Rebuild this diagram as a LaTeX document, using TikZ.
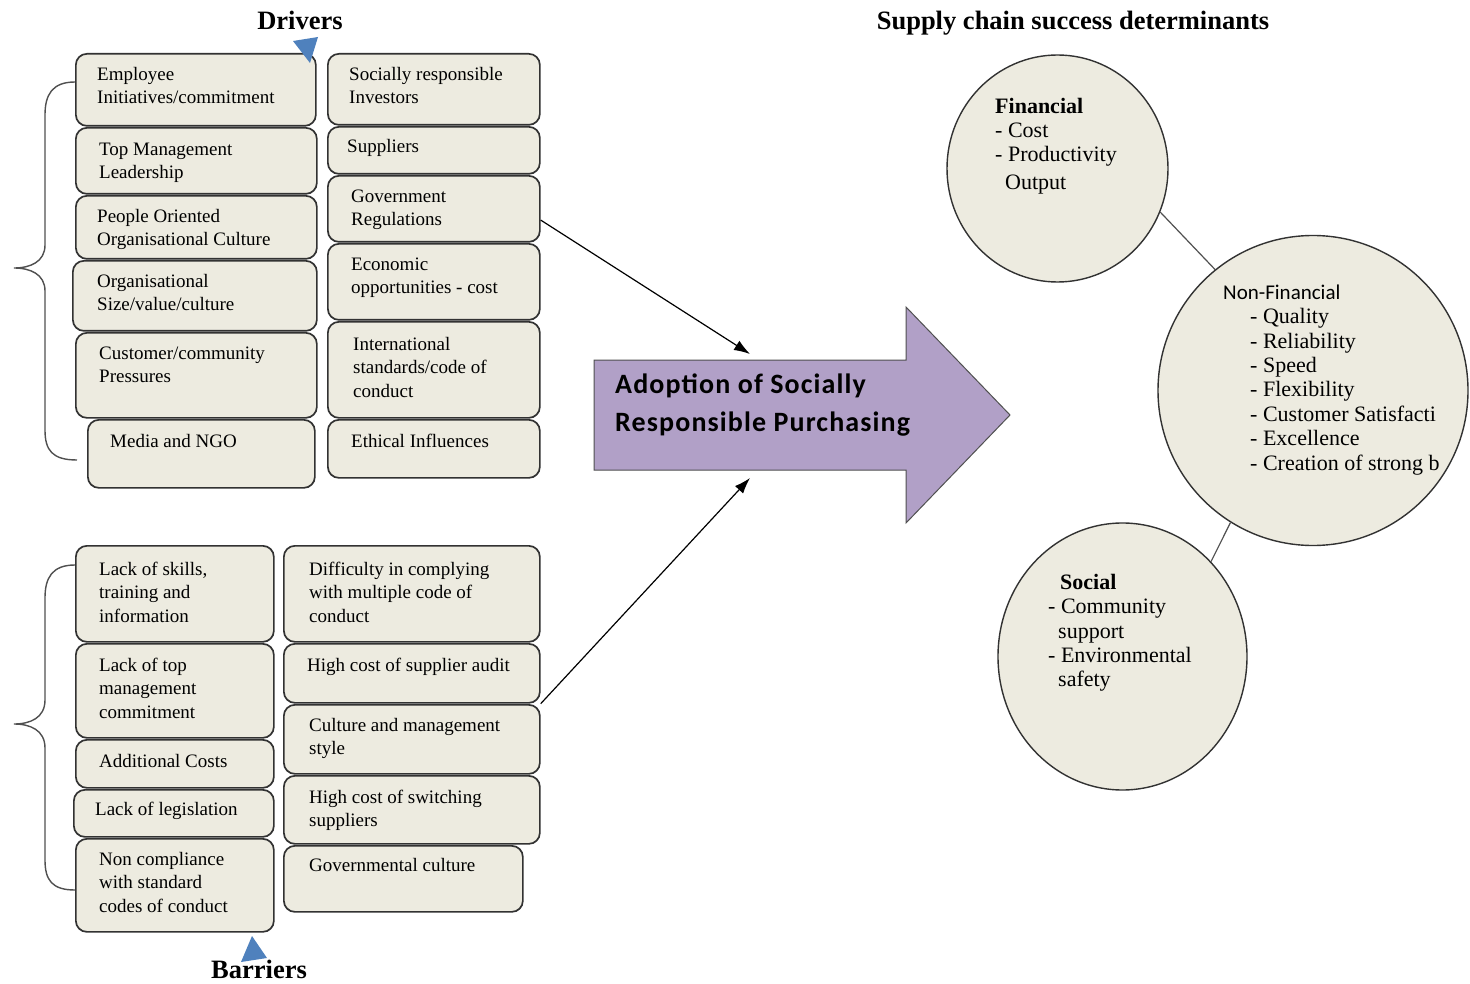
\documentclass[tikz,border=0pt]{standalone}
\usepackage{fontspec}
\setmainfont{Liberation Serif}
\newfontfamily\calibri{Carlito}
\newfontfamily\calibriwide[LetterSpace=4]{Carlito}
\usetikzlibrary{arrows.meta,shapes.geometric}
\definecolor{boxfill}{RGB}{237,235,224}
\definecolor{boxline}{RGB}{50,50,50}
\definecolor{arrfill}{RGB}{177,160,199}
\definecolor{arrline}{RGB}{80,80,80}
\definecolor{tri}{RGB}{79,129,189}
\tikzset{
  box/.style={draw=boxline, line width=1.7pt, fill=boxfill, rounded corners=11pt, anchor=north west, inner sep=0pt},
  boxlbl/.style={anchor=north west, inner sep=0pt, align=left, font=\fontsize{19}{23.5}\selectfont},
  circ/.style={ellipse, draw=boxline, line width=1.4pt, fill=boxfill, inner sep=0pt},
  ctext/.style={anchor=north west, inner sep=0pt, align=left, font=\fontsize{22}{24.4}\selectfont},
  hdr/.style={anchor=base, inner sep=0pt, font=\fontsize{26.5}{30}\selectfont\bfseries},
  arrtext/.style={anchor=north west, inner sep=0pt, align=left, font=\calibriwide\bfseries\fontsize{28}{38}\selectfont},
  conn/.style={line width=1.2pt, -{Latex[length=16pt,width=11pt]}},
  cline/.style={line width=1.2pt, draw=arrline},
  brace/.style={line width=1.4pt, draw=arrline},
}
\newcommand\mybox[8]{%
  \node[box, minimum width={#4-#2}, minimum height={#5-#3},
    label={[boxlbl, xshift={#6-#2}, yshift={-(#7-14-#3)}]north west:{\rule{0pt}{14pt}#8}}] (#1) at (#2,#3) {};}
\begin{document}
\begin{tikzpicture}[x=1pt,y=-1pt]
\useasboundingbox[fill=white] (0,0) rectangle (1470,984);

% headers
\node[hdr] (drivers) at (300,30) {Drivers};
\node[hdr] (barriers) at (259,978) {Barriers};
\node[hdr] (success) at (1073,30) {Supply chain success determinants};

% braces
\draw[brace] (75,82) .. controls (52,82) and (45,95) .. (45,115) -- (45,245)
  .. controls (45,262) and (30,268) .. (14,268)
  .. controls (30,268) and (45,274) .. (45,291) -- (45,430)
  .. controls (45,450) and (52,460) .. (77,460);
\draw[brace] (75,565) .. controls (52,565) and (45,578) .. (45,598) -- (45,700)
  .. controls (45,718) and (30,724) .. (14,724)
  .. controls (30,724) and (45,730) .. (45,748) -- (45,860)
  .. controls (45,880) and (52,890) .. (75,890);

% drivers
\mybox{d1}{75}{53}{315}{125}{97}{80}{Employee\\Initiatives/commitment}
\mybox{d2}{75}{127}{316}{193}{99}{155}{Top Management\\Leadership}
\mybox{d3}{75}{195}{316}{258}{97}{222}{People Oriented\\Organisational Culture}
\mybox{d4}{72}{260}{316}{330}{97}{287}{Organisational\\Size/value/culture}
\mybox{d5}{75}{332}{316}{417}{99}{359}{Customer/community\\Pressures}
\mybox{d6}{87}{419}{314}{487}{110}{447}{Media and NGO}
\mybox{e1}{327}{53}{539}{124}{349}{80}{Socially responsible\\Investors}
\mybox{e2}{327}{126}{539}{173}{347}{152}{Suppliers}
\mybox{e3}{327}{175}{539}{241}{351}{202}{Government\\Regulations}
\mybox{e4}{327}{243}{539}{319}{351}{270}{Economic\\opportunities - cost}
\mybox{e5}{327}{321}{539}{417}{353}{350}{International\\standards/code of\\conduct}
\mybox{e6}{327}{419}{539}{477}{351}{447}{Ethical Influences}

% barriers
\mybox{b1}{75}{545}{273}{641}{99}{575}{Lack of skills,\\training and\\information}
\mybox{b2}{75}{643}{273}{737}{99}{671}{Lack of top\\management\\commitment}
\mybox{b3}{75}{739}{273}{787}{99}{767}{Additional Costs}
\mybox{b4}{73}{789}{273}{836}{95}{815}{Lack of legislation}
\mybox{b5}{75}{838}{273}{931}{99}{865}{Non compliance\\with standard\\codes of conduct}
\mybox{c1}{283}{545}{539}{641}{309}{575}{Difficulty in complying\\with multiple code of\\conduct}
\mybox{c2}{283}{643}{539}{702}{307}{671}{High cost of supplier audit}
\mybox{c3}{283}{704}{539}{773}{309}{731}{Culture and management\\style}
\mybox{c4}{283}{775}{539}{843}{309}{803}{High cost of switching\\suppliers}
\mybox{c5}{283}{845}{522}{911}{309}{871}{Governmental culture}

% blue triangles
\fill[tri] (293,41) -- (318,37) -- (310,63) -- cycle;
\fill[tri] (252,936) -- (267,958) -- (241,962) -- cycle;

% big arrow
\draw[draw=arrline, fill=arrfill, line width=1pt] (594,360) -- (906,360) -- (906,307) -- (1010,415)
  -- (906,523) -- (906,470) -- (594,470) -- cycle;
\node[arrtext] (adopt) at (615,372) {\rule{0pt}{21pt}Adoption of Socially\\Responsible Purchasing};
\coordinate (inTop) at (750,354);
\coordinate (inBot) at (750,478);
\draw[conn] (e3.-6) -- (inTop);
\draw[conn] (c2.south east) -- (inBot);

% circles
\node[circ, minimum width=221, minimum height=227] (fin) at (1057.5,168.5) {};
\node[circ, minimum width=310, minimum height=310] (nonfin) at (1313,390.5) {};
\node[circ, minimum width=249, minimum height=267] (soc) at (1122.5,656.5) {};
\draw[cline] (fin.-23) -- (nonfin.129.5);
\draw[cline] (soc.47.7) -- (nonfin.238.8);

\node[ctext] (finT) at (995,96) {\rule{0pt}{17pt}\textbf{Financial}\\- Cost\\- Productivity\\[3.5pt]\hspace*{10pt}Output};
\node[ctext] (nonfinT) at (1223,282) {\rule{0pt}{17pt}{\calibri\fontsize{21}{24.4}\selectfont Non-Financial}\\
  \hspace*{27pt}- Quality\\\hspace*{27pt}- Reliability\\\hspace*{27pt}- Speed\\\hspace*{27pt}- Flexibility\\
  \hspace*{27pt}- Customer Satisfacti\\\hspace*{27pt}- Excellence\\\hspace*{27pt}- Creation of strong b};
\node[ctext] (socT) at (1048,572) {\rule{0pt}{17pt}\hspace*{12pt}\textbf{Social}\\- Community\\\hspace*{10pt}support\\- Environmental\\\hspace*{10pt}safety};
\end{tikzpicture}
\end{document}
